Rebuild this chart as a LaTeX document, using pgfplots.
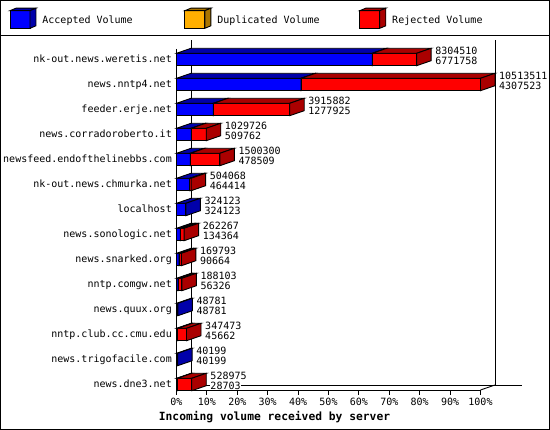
\documentclass[border=0pt]{standalone}
\usepackage{fontspec}
\usepackage{pgfplots}
\usepackage{pgfplotstable}
\pgfplotsset{compat=1.18}
\newfontfamily\gdfont{DejaVu Sans Mono}
\newcommand\gdsmall{\gdfont\fontsize{10}{11}\selectfont}
\newcommand\gdbold{\gdfont\bfseries\fontsize{11.3}{13}\selectfont}
\definecolor{accfront}{RGB}{0,0,255}
\definecolor{accdark}{RGB}{0,0,170}
\definecolor{dupfront}{RGB}{255,175,0}
\definecolor{dupdark}{RGB}{170,117,0}
\definecolor{rejfront}{RGB}{255,0,0}
\definecolor{rejdark}{RGB}{170,0,0}

% offered = top label, accepted = bottom label, rejected = offered - accepted
\pgfplotstableread{
row host offered accepted rejected
0  nk-out.news.weretis.net       8304510  6771758 1532752
1  news.nntp4.net                10513511 4307523 6205988
2  feeder.erje.net               3915882  1277925 2637957
3  news.corradoroberto.it        1029726  509762  519964
4  newsfeed.endofthelinebbs.com  1500300  478509  1021791
5  nk-out.news.chmurka.net       504068   464414  39654
6  localhost                     324123   324123  0
7  news.sonologic.net            262267   134364  127903
8  news.snarked.org              169793   90664   79129
9  nntp.comgw.net                188103   56326   131777
10 news.quux.org                 48781    48781   0
11 nntp.club.cc.cmu.edu          347473   45662   301811
12 news.trigofacile.com          40199    40199   0
13 news.dne3.net                 528975   28703   500272
}\hosts

% 3d bar segment, drawn leftwards from the mark position
\newcommand\drawbox[2]{%
  \begingroup
    \pgfkeys{/pgf/fpu=true,/pgf/fpu/output format=fixed}%
    \pgfmathparse{\seglen*304/10513511}%
    \global\let\seglenpt\pgfmathresult
  \endgroup
  \ifdim\seglenpt pt>0.05pt
    \filldraw[fill=#1,draw=black,line width=0.9pt] (-\seglenpt pt,-6.2pt) rectangle (0pt,6.2pt);
    \filldraw[fill=#2,draw=black,line width=0.9pt] (-\seglenpt pt,6.2pt) -- ++(14.5pt,5pt) -- (14.5pt,11.2pt) -- (0pt,6.2pt) -- cycle;
    \filldraw[fill=#2,draw=black,line width=0.9pt] (0pt,-6.2pt) -- (14.5pt,-1.2pt) -- (14.5pt,11.2pt) -- (0pt,6.2pt) -- cycle;
  \fi}
\pgfdeclareplotmark{boxacc}{\drawbox{accfront}{accdark}}
\pgfdeclareplotmark{boxrej}{\drawbox{rejfront}{rejdark}}

\newcommand\legendcube[2]{%
  \filldraw[fill=#1,draw=black,line width=0.9pt] (0pt,-4.3pt) rectangle (20pt,13.3pt);
  \filldraw[fill=#2,draw=black,line width=0.9pt] (0pt,13.3pt) -- (6pt,15.8pt) -- (26pt,15.8pt) -- (20pt,13.3pt) -- cycle;
  \filldraw[fill=#2,draw=black,line width=0.9pt] (20pt,-4.3pt) -- (26pt,-1.8pt) -- (26pt,15.8pt) -- (20pt,13.3pt) -- cycle;}

\begin{document}
\begin{tikzpicture}
\path[use as bounding box, fill=white] (-176.5pt,-40pt) rectangle (373.5pt,390pt);
\begin{axis}[
    scale only axis,
    width=304pt, height=341pt,
    xmin=0, xmax=10513511,
    ymin=-0.42, ymax=13.22,
    y dir=reverse,
    clip=false,
    enlargelimits=false,
    axis x line*=bottom,
    axis y line*=left,
    axis line style={black, line width=0.9pt},
    xtick={0,1051351.1,2102702.2,3154053.3,4205404.4,5256755.5,6308106.6,7359457.7,8410808.8,9462159.9,10513511},
    xticklabels={0\%,10\%,20\%,30\%,40\%,50\%,60\%,70\%,80\%,90\%,100\%},
    scaled x ticks=false,
    tick align=outside,
    major tick length=5pt,
    xtick style={black, line width=0.9pt},
    ytick={0,...,13},
    yticklabels from table={\hosts}{host},
    ytick style={draw=none},
    xticklabel style={font=\gdsmall, inner sep=0pt, anchor=north, text height=7.3pt, text depth=0pt},
    xticklabel shift=3.3pt,
    yticklabel style={font=\gdsmall, inner sep=0pt, anchor=east, text height=5.5pt, text depth=0pt},
    yticklabel shift=-0.5pt,
    xlabel={Incoming volume received by server},
    xlabel style={at={(axis description cs:0.3224,-0.0909)}, anchor=base, font=\gdbold, inner sep=0pt},
    legend columns=3,
    legend cell align=left,
    legend style={at={(axis description cs:-0.5492,1.0902)}, anchor=west,
        draw=none, fill=none, inner sep=0pt, outer sep=0pt,
        row sep=0pt, column sep=0pt,
        nodes={inner sep=0pt, font=\gdsmall, anchor=base west},
        /tikz/every odd column/.style={column sep=6pt}},
]
% back wall of the 3d frame
\draw[line width=0.9pt] ([shift={(14.5pt,5pt)}]axis description cs:0,0) -- ([shift={(14.5pt,9pt)}]axis description cs:0,1);
\draw[line width=0.9pt] ([shift={(14.5pt,5pt)}]axis description cs:1,0) -- ([shift={(14.5pt,9pt)}]axis description cs:1,1);
\draw[line width=0.9pt] ([shift={(14.5pt,5pt)}]axis description cs:0,0) -- ([shift={(41.5pt,5pt)}]axis description cs:1,0);
\draw[line width=0.9pt] (axis description cs:1,0) -- ([shift={(14.5pt,5pt)}]axis description cs:1,0);
\draw[line width=0.9pt] (axis description cs:0,0) -- ([shift={(14.5pt,5pt)}]axis description cs:0,0);

\addplot[scatter, only marks, mark=boxacc,
    visualization depends on={\thisrow{accepted} \as \seglen},
    legend image code/.code={\legendcube{accfront}{accdark}}]
    table[x=accepted, y=row] {\hosts};
\addlegendentry{\makebox[142pt][l]{Accepted Volume}}
\addlegendimage{legend image code/.code={\legendcube{dupfront}{dupdark}}}
\addlegendentry{\makebox[142pt][l]{Duplicated Volume}}
\addplot[scatter, only marks, mark=boxrej,
    visualization depends on={\thisrow{rejected} \as \seglen},
    legend image code/.code={\legendcube{rejfront}{rejdark}}]
    table[x=offered, y=row] {\hosts};
\addlegendentry{\makebox[142pt][l]{Rejected Volume}}

% value labels at the end of each bar
\addplot[only marks, mark=none, forget plot, point meta=explicit symbolic,
    nodes near coords,
    nodes near coords style={anchor=west, font=\gdsmall, inner sep=0pt, text height=7.3pt, text depth=0pt, xshift=18.5pt, yshift=9pt, black}]
    table[x=offered, y=row, meta=offered] {\hosts};
\addplot[only marks, mark=none, forget plot, point meta=explicit symbolic,
    nodes near coords,
    nodes near coords style={anchor=west, font=\gdsmall, inner sep=0pt, text height=7.3pt, text depth=0pt, xshift=18.5pt, yshift=-1.8pt, black, fill=white}]
    table[x=offered, y=row, meta=accepted] {\hosts};
\end{axis}
\draw[line width=1pt] (-176pt,-39.5pt) rectangle (373pt,389.5pt);
\draw[line width=1pt] (-176.5pt,354.5pt) -- (373.5pt,354.5pt);
\end{tikzpicture}
\end{document}
